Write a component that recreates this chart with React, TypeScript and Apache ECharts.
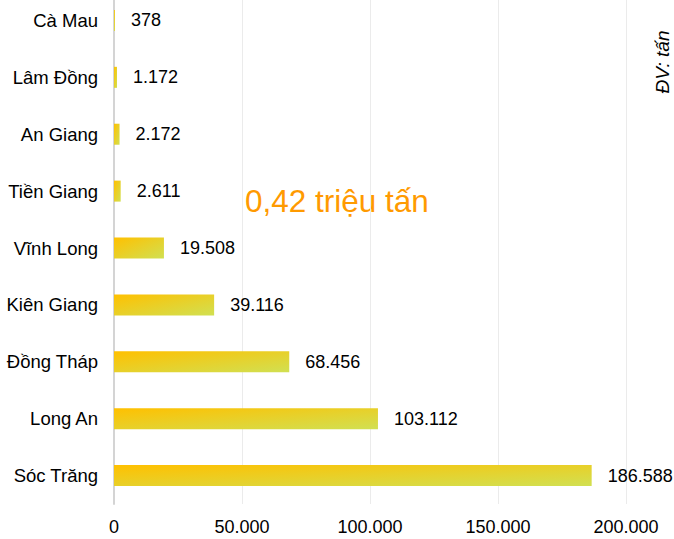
import React, { useEffect, useRef } from "react";
import * as echarts from "echarts";

const categories = ["Sóc Trăng", "Long An", "Đồng Tháp", "Kiên Giang", "Vĩnh Long", "Tiền Giang", "An Giang", "Lâm Đồng", "Cà Mau"];
const values = [186588, 103112, 68456, 39116, 19508, 2611, 2172, 1172, 378];
const totalLabel = "0,42 triệu tấn";
const unitLabel = "ĐV: tấn";

const fmt = (v: number) => String(Math.round(v)).replace(/\B(?=(\d{3})+(?!\d))/g, ".");

const OFFSET = 8;

export default function App() {
  const ref = useRef<HTMLDivElement>(null);
  useEffect(() => {
    if (!ref.current) return;
    const chart = echarts.init(ref.current, null, { renderer: "svg" });
    const font = "Liberation Sans, Arial, sans-serif";
    chart.setOption({
      animation: false,
      textStyle: { fontFamily: font },
      grid: { left: 114, right: 48, top: 0, bottom: 35 },
      xAxis: {
        type: "value",
        min: 0,
        max: 200000,
        interval: 50000,
        axisLine: { show: false },
        axisTick: { show: false },
        axisLabel: { formatter: (v: number) => fmt(v), fontSize: 18, color: "#000", margin: 14, fontFamily: font },
        splitLine: { show: true, lineStyle: { color: "#ebebeb", width: 1 } },
      },
      yAxis: {
        type: "category",
        data: categories,
        axisLine: { show: true, lineStyle: { color: "#d4d4d4", width: 2 } },
        axisTick: { show: false },
        axisLabel: { fontSize: 18.5, color: "#000", margin: 16, fontFamily: font },
      },
      series: [
        {
          type: "bar",
          data: values,
          barWidth: 21,
          itemStyle: {
            color: new echarts.graphic.LinearGradient(0, 0, 1, 1, [
              { offset: 0, color: "#FFC000" },
              { offset: 1, color: "#D1E052" },
            ]),
          },
          label: {
            show: true,
            position: "right",
            distance: 16,
            fontSize: 18,
            color: "#000",
            fontFamily: font,
            formatter: (p: any) => fmt(p.value),
          },
        },
      ],
      graphic: [
        {
          type: "text",
          left: 245,
          top: 185 + OFFSET,
          style: { text: totalLabel, fontSize: 31.5, fill: "#FF9A00", fontFamily: font },
        },
        {
          type: "text",
          x: 662,
          y: 62 + OFFSET,
          rotation: Math.PI / 2,
          style: {
            text: unitLabel,
            fontSize: 19,
            fontStyle: "italic",
            fill: "#000",
            fontFamily: font,
            align: "center",
            verticalAlign: "middle",
          },
        },
      ],
    });
    return () => chart.dispose();
  }, []);
  return (
    <div style={{ position: "absolute", left: 0, top: 0, width: 674, height: 539, overflow: "hidden" }}>
      <div ref={ref} style={{ width: 674, height: 539 + OFFSET, position: "absolute", left: 0, top: -OFFSET }} />
    </div>
  );
}
